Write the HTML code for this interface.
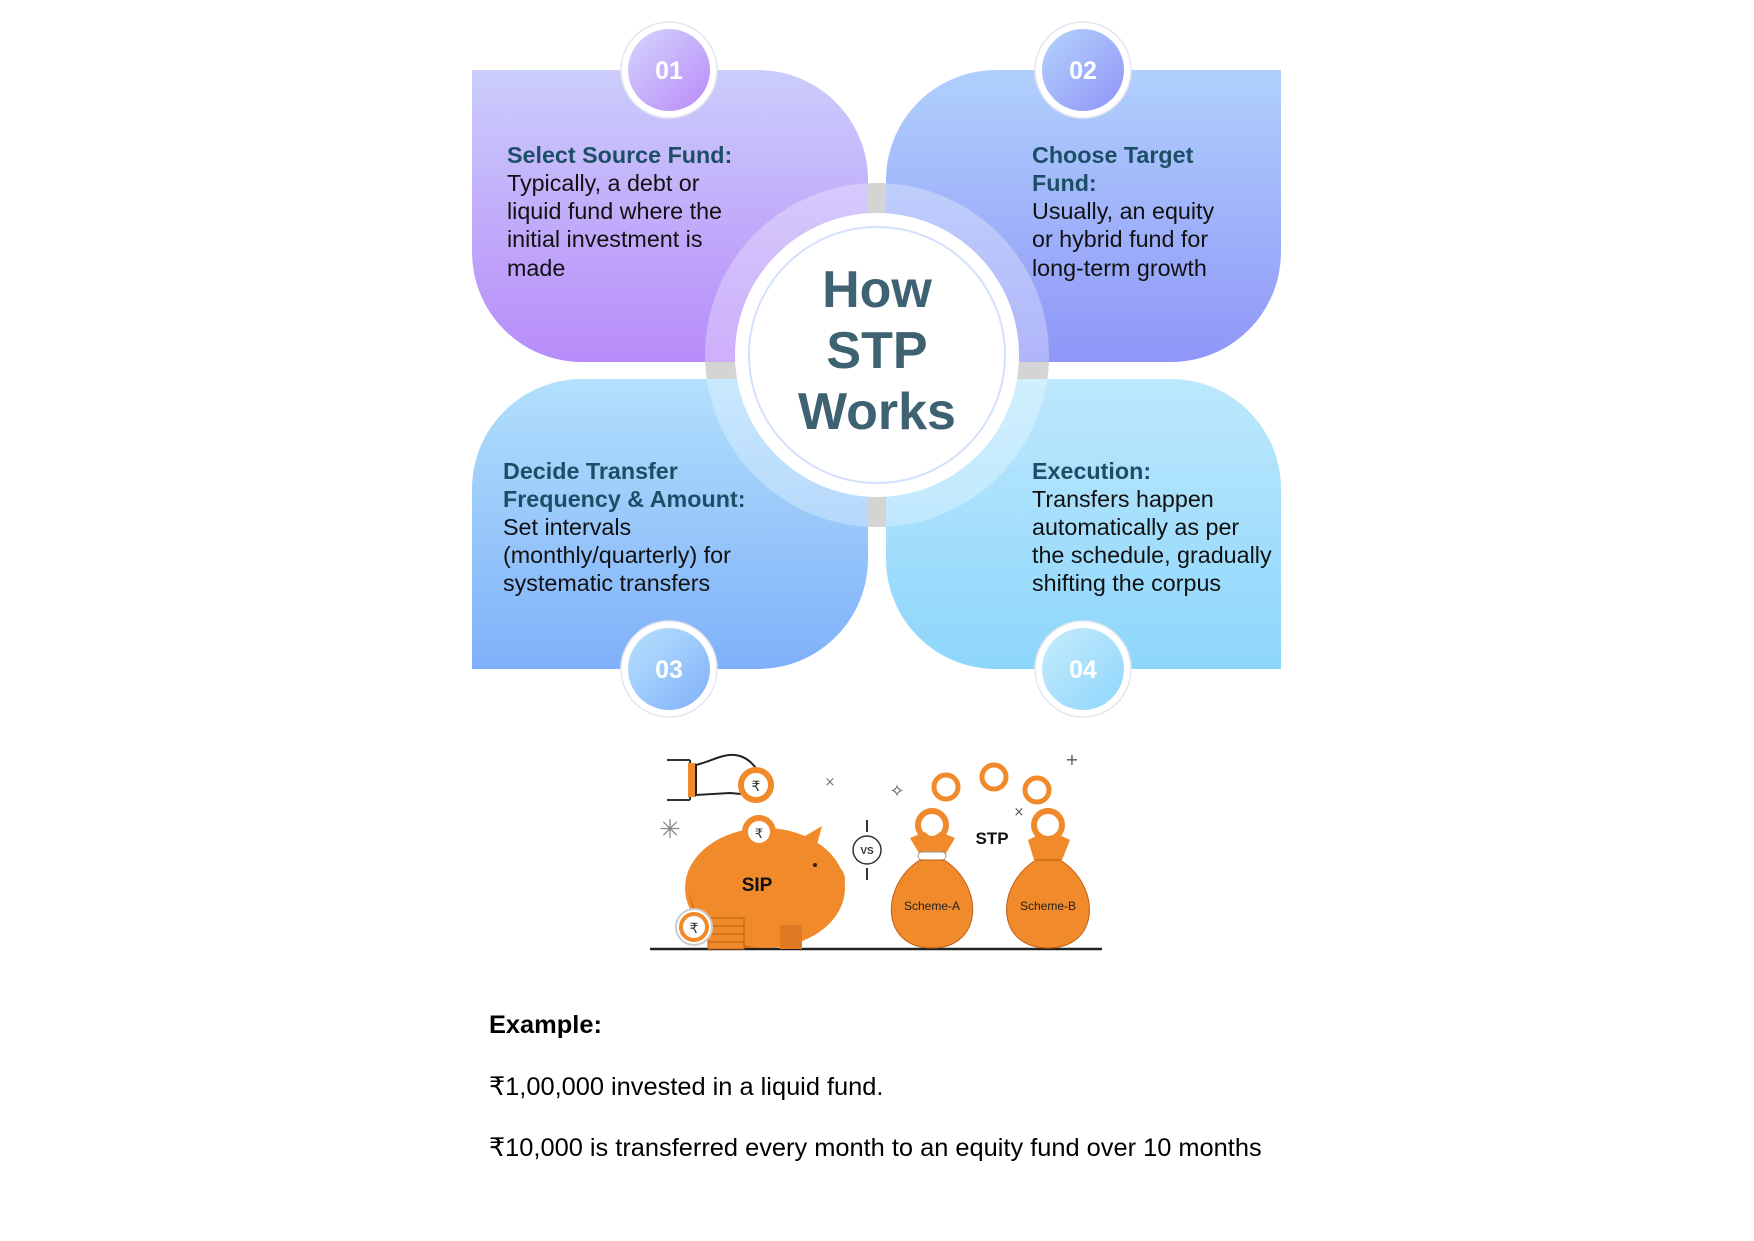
<!DOCTYPE html>
<html><head><meta charset="utf-8">
<style>
html,body{margin:0;padding:0;background:#fff;}
svg{display:block;}
.h{font-family:"Liberation Sans",sans-serif;font-weight:bold;font-size:23.3px;fill:#1c4f66;}
.t{font-family:"Liberation Sans",sans-serif;font-size:23.3px;fill:#111;}
.n{font-family:"Liberation Sans",sans-serif;font-weight:bold;font-size:25px;fill:#fff;}
.c{font-family:"Liberation Sans",sans-serif;font-weight:bold;font-size:52px;fill:#3f6272;}
.e{font-family:"Liberation Sans",sans-serif;font-size:25.4px;fill:#000;}
</style></head><body>
<svg width="1754" height="1241" viewBox="0 0 1754 1241" xmlns="http://www.w3.org/2000/svg">
<defs>
<linearGradient id="g1" x1="0" y1="0" x2="0" y2="1"><stop offset="0" stop-color="#cbcdfc"/><stop offset="1" stop-color="#b88cf9"/></linearGradient>
<linearGradient id="g2" x1="0" y1="0" x2="0" y2="1"><stop offset="0" stop-color="#b0d0fc"/><stop offset="1" stop-color="#8f96f8"/></linearGradient>
<linearGradient id="g3" x1="0" y1="0" x2="0" y2="1"><stop offset="0" stop-color="#b2e0fc"/><stop offset="1" stop-color="#7fb0f9"/></linearGradient>
<linearGradient id="g4" x1="0" y1="0" x2="0" y2="1"><stop offset="0" stop-color="#bde8fd"/><stop offset="1" stop-color="#8dd6fb"/></linearGradient>
<linearGradient id="n1" x1="0" y1="0" x2="1" y2="1"><stop offset="0" stop-color="#d4d6fd"/><stop offset="1" stop-color="#b98af8"/></linearGradient>
<linearGradient id="n2" x1="0" y1="0" x2="1" y2="1"><stop offset="0" stop-color="#b5d4fd"/><stop offset="1" stop-color="#8f94f7"/></linearGradient>
<linearGradient id="n3" x1="0" y1="0" x2="1" y2="1"><stop offset="0" stop-color="#b8e2fd"/><stop offset="1" stop-color="#7fb0f9"/></linearGradient>
<linearGradient id="n4" x1="0" y1="0" x2="1" y2="1"><stop offset="0" stop-color="#c6ecfd"/><stop offset="1" stop-color="#8ed6fb"/></linearGradient>
</defs>
<circle cx="877" cy="355" r="172" fill="#c2c2c2"/>
<path d="M472 70 H758 A110 110 0 0 1 868 180 V362 H582 A110 110 0 0 1 472 252 Z" fill="url(#g1)"/>
<path d="M996 70 H1281 V252 A110 110 0 0 1 1171 362 H886 V180 A110 110 0 0 1 996 70 Z" fill="url(#g2)"/>
<path d="M582 379 H868 V559 A110 110 0 0 1 758 669 H472 V489 A110 110 0 0 1 582 379 Z" fill="url(#g3)"/>
<path d="M886 379 H1171 A110 110 0 0 1 1281 489 V669 H996 A110 110 0 0 1 886 559 Z" fill="url(#g4)"/>
<circle cx="877" cy="355" r="172" fill="#fff" fill-opacity="0.3"/>
<circle cx="877" cy="355" r="142" fill="#fff"/>
<circle cx="877" cy="355" r="128" fill="none" stroke="#d3e1fb" stroke-width="2"/>
<text class="c" x="877" y="307" text-anchor="middle">How</text>
<text class="c" x="877" y="368" text-anchor="middle">STP</text>
<text class="c" x="877" y="429" text-anchor="middle">Works</text>
<g>
<circle cx="669" cy="70" r="48" fill="#fff" stroke="#e6e6f0" stroke-width="1.5"/><circle cx="669" cy="70" r="41" fill="url(#n1)"/><text class="n" x="669" y="79" text-anchor="middle">01</text>
<circle cx="1083" cy="70" r="48" fill="#fff" stroke="#e6e6f0" stroke-width="1.5"/><circle cx="1083" cy="70" r="41" fill="url(#n2)"/><text class="n" x="1083" y="79" text-anchor="middle">02</text>
<circle cx="669" cy="669" r="48" fill="#fff" stroke="#e6e6f0" stroke-width="1.5"/><circle cx="669" cy="669" r="41" fill="url(#n3)"/><text class="n" x="669" y="678" text-anchor="middle">03</text>
<circle cx="1083" cy="669" r="48" fill="#fff" stroke="#e6e6f0" stroke-width="1.5"/><circle cx="1083" cy="669" r="41" fill="url(#n4)"/><text class="n" x="1083" y="678" text-anchor="middle">04</text>
</g>
<text class="h" x="507" y="163">Select Source Fund:</text>
<text class="t" x="507" y="191">Typically, a debt or</text>
<text class="t" x="507" y="219">liquid fund where the</text>
<text class="t" x="507" y="247">initial investment is</text>
<text class="t" x="507" y="276">made</text>

<text class="h" x="1032" y="163">Choose Target</text>
<text class="h" x="1032" y="191">Fund:</text>
<text class="t" x="1032" y="219">Usually, an equity</text>
<text class="t" x="1032" y="247">or hybrid fund for</text>
<text class="t" x="1032" y="276">long-term growth</text>

<text class="h" x="503" y="479">Decide Transfer</text>
<text class="h" x="503" y="507">Frequency &amp; Amount:</text>
<text class="t" x="503" y="535">Set intervals</text>
<text class="t" x="503" y="563">(monthly/quarterly) for</text>
<text class="t" x="503" y="591">systematic transfers</text>

<text class="h" x="1032" y="479">Execution:</text>
<text class="t" x="1032" y="507">Transfers happen</text>
<text class="t" x="1032" y="535">automatically as per</text>
<text class="t" x="1032" y="563">the schedule, gradually</text>
<text class="t" x="1032" y="591">shifting the corpus</text>

<g>
<line x1="650" y1="949" x2="1102" y2="949" stroke="#222" stroke-width="2.5"/>
<path d="M667 760 H690 M667 800 H690 M690 760 V800" stroke="#333" stroke-width="2" fill="none"/>
<rect x="688" y="763" width="8" height="34" fill="#f08a2a"/>
<path d="M696 765 C715 760 725 752 740 756 C752 760 758 770 762 780 L752 795 L730 793 L696 795 Z" fill="#fff" stroke="#222" stroke-width="2"/>
<circle cx="756" cy="785" r="15" fill="#fff" stroke="#f08a2a" stroke-width="6"/>
<text x="756" y="791" font-family="Liberation Sans,sans-serif" font-size="14" text-anchor="middle" fill="#333">₹</text>
<ellipse cx="765" cy="888" rx="80" ry="60" fill="#f08a2a"/>
<path d="M690 890 A80 60 0 0 0 770 948 L740 948 A80 60 0 0 1 690 890Z" fill="#d86e1a"/>
<path d="M805 836 L822 826 L815 852 Z" fill="#f08a2a"/>
<ellipse cx="835" cy="880" rx="10" ry="14" fill="#f08a2a"/>
<rect x="780" y="925" width="22" height="24" fill="#e07a22"/>
<circle cx="815" cy="865" r="2" fill="#222"/>
<circle cx="759" cy="832" r="14" fill="#fff" stroke="#f08a2a" stroke-width="6"/>
<text x="759" y="838" font-family="Liberation Sans,sans-serif" font-size="13" text-anchor="middle" fill="#333">₹</text>
<text x="757" y="891" font-family="Liberation Sans,sans-serif" font-weight="bold" font-size="19" text-anchor="middle" fill="#111">SIP</text>
<rect x="708" y="918" width="36" height="8" fill="#f08a2a" stroke="#c05c10"/>
<rect x="708" y="926" width="36" height="8" fill="#f08a2a" stroke="#c05c10"/>
<rect x="708" y="934" width="36" height="8" fill="#f08a2a" stroke="#c05c10"/>
<rect x="708" y="942" width="36" height="7" fill="#f08a2a" stroke="#c05c10"/>
<circle cx="694" cy="927" r="18" fill="#fff" stroke="#ccc" stroke-width="2"/>
<circle cx="694" cy="927" r="13" fill="#fff" stroke="#f08a2a" stroke-width="4"/>
<text x="694" y="933" font-family="Liberation Sans,sans-serif" font-size="14" text-anchor="middle" fill="#333">₹</text>
<text x="670" y="838" font-family="Liberation Sans,sans-serif" font-size="26" text-anchor="middle" fill="#888">✳</text>
<line x1="867" y1="820" x2="867" y2="832" stroke="#333" stroke-width="2"/>
<line x1="867" y1="868" x2="867" y2="880" stroke="#333" stroke-width="2"/>
<circle cx="867" cy="850" r="14" fill="#fff" stroke="#333" stroke-width="1.5"/>
<text x="867" y="854" font-family="Liberation Sans,sans-serif" font-weight="bold" font-size="10" text-anchor="middle" fill="#333">VS</text>
<circle cx="932" cy="825" r="14" fill="#fff" stroke="#f08a2a" stroke-width="6"/>
<path d="M910 838 L925 832 L932 838 L940 832 L955 838 L945 855 L920 855 Z" fill="#f08a2a"/>
<rect x="918" y="852" width="28" height="8" rx="4" fill="#fff" stroke="#999"/>
<path d="M920 860 C880 885 880 948 932 948 C984 948 984 885 944 860 Z" fill="#f08a2a" stroke="#c05c10"/>
<text x="932" y="910" font-family="Liberation Sans,sans-serif" font-size="12" text-anchor="middle" fill="#222">Scheme-A</text>
<circle cx="1048" cy="825" r="14" fill="#fff" stroke="#f08a2a" stroke-width="6"/>
<path d="M1028 840 L1040 834 L1048 842 L1058 834 L1070 840 L1062 860 L1034 860 Z" fill="#f08a2a"/>
<path d="M1036 860 C995 885 995 948 1048 948 C1101 948 1101 885 1060 860 Z" fill="#f08a2a" stroke="#c05c10"/>
<text x="1048" y="910" font-family="Liberation Sans,sans-serif" font-size="12" text-anchor="middle" fill="#222">Scheme-B</text>
<text x="992" y="844" font-family="Liberation Sans,sans-serif" font-weight="bold" font-size="17" text-anchor="middle" fill="#111">STP</text>
<circle cx="946" cy="787" r="12" fill="#fff" stroke="#f08a2a" stroke-width="5"/>
<circle cx="994" cy="777" r="12" fill="#fff" stroke="#f08a2a" stroke-width="5"/>
<circle cx="1037" cy="790" r="12" fill="#fff" stroke="#f08a2a" stroke-width="5"/>
<text x="897" y="797" font-family="DejaVu Sans,sans-serif" font-size="18" text-anchor="middle" fill="#555">✧</text>
<text x="1072" y="765" font-family="DejaVu Sans,sans-serif" font-size="16" text-anchor="middle" fill="#555">+</text>
<text x="1019" y="816" font-family="DejaVu Sans,sans-serif" font-size="13" text-anchor="middle" fill="#555">×</text>
<text x="830" y="786" font-family="DejaVu Sans,sans-serif" font-size="13" text-anchor="middle" fill="#777">×</text>
</g>
<text class="e" x="489" y="1033" font-weight="bold">Example:</text>
<text class="e" x="489" y="1095">₹1,00,000 invested in a liquid fund.</text>
<text class="e" x="489" y="1156">₹10,000 is transferred every month to an equity fund over 10 months</text>
</svg>
</body></html>
